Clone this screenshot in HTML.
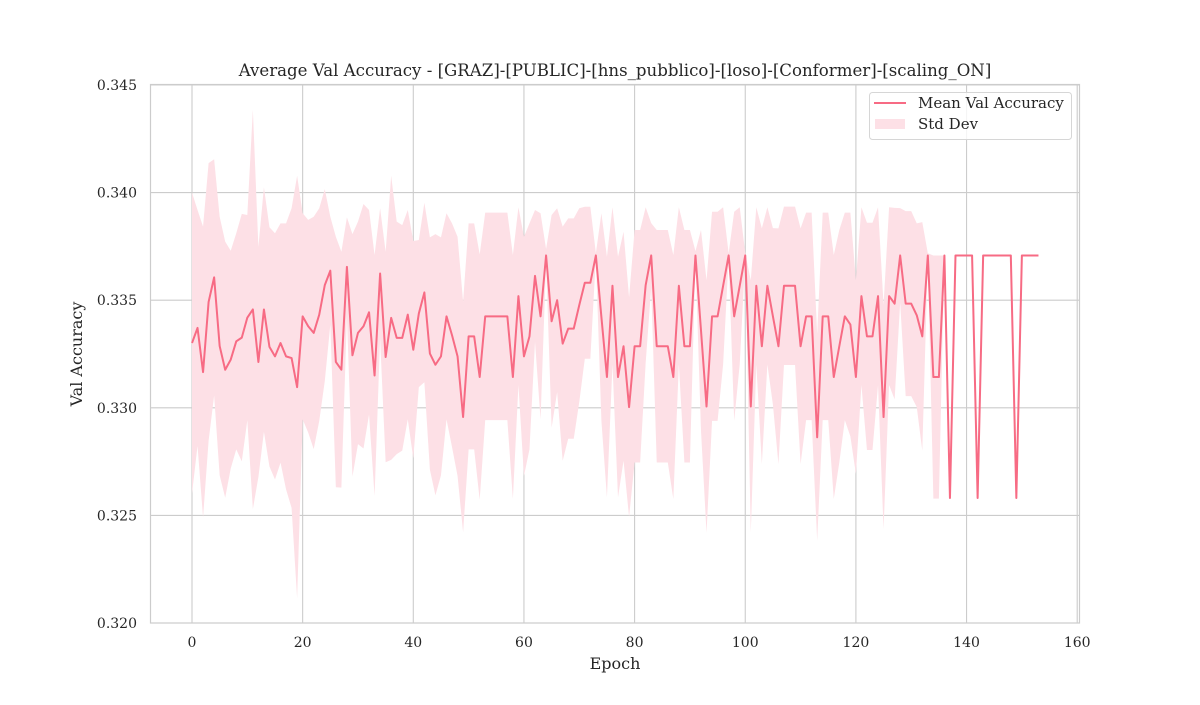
<!DOCTYPE html>
<html><head><meta charset="utf-8">
<style>
html,body{margin:0;padding:0;background:#fff;}
svg text{font-family:"DejaVu Serif","Liberation Serif",serif;fill:#262626;}
</style></head>
<body>
<svg id="chart" width="1200" height="700" xmlns="http://www.w3.org/2000/svg">
<rect x="0" y="0" width="1200" height="700" fill="#fff"/>
<g id="grid"></g>
<g id="band"></g>
<g id="line"></g>
<rect x="150.5" y="84.5" width="929" height="538.5" fill="none" stroke="#cccccc" stroke-width="1.2"/>
<g id="ticks"></g>
<text x="615" y="76" font-size="16.6" text-anchor="middle">Average Val Accuracy - [GRAZ]-[PUBLIC]-[hns_pubblico]-[loso]-[Conformer]-[scaling_ON]</text>
<text x="615" y="669" font-size="16" text-anchor="middle">Epoch</text>
<text x="0" y="0" font-size="16" text-anchor="middle" transform="translate(82,354) rotate(-90)">Val Accuracy</text>
<g>
<rect x="869.5" y="92.5" width="202" height="47" rx="3" fill="#fff" fill-opacity="0.8" stroke="#d6d6d6"/>
<line x1="874" y1="103" x2="906" y2="103" stroke="#f76b84" stroke-width="2"/>
<rect x="875" y="119" width="30" height="10" fill="#fde0e6"/>
<text x="918" y="108" font-size="15">Mean Val Accuracy</text>
<text x="918" y="129" font-size="15">Std Dev</text>
</g>
</svg>
<script>
const meanVals = [0.33301,0.33371,0.33166,0.33492,0.33606,0.33287,0.33177,0.33224,0.33309,0.33326,
0.33419,0.33457,0.33213,0.33457,0.33283,0.33239,0.33301,0.33239,0.33231,0.33096,
0.33425,0.33379,0.33348,0.33433,0.3357,0.33637,0.33213,0.33177,0.33655,0.33244,
0.33348,0.33379,0.33444,0.3315,0.33624,0.33236,0.33418,0.33325,0.33325,0.33433,
0.3327,0.33438,0.33536,0.33252,0.332,0.33239,0.33425,0.33337,0.33239,0.32957,
0.33332,0.33332,0.33143,0.33425,0.33425,0.33425,0.33425,0.33425,0.33143,0.33519,
0.33239,0.33332,0.33613,0.33425,0.33708,0.33402,0.335,0.33298,0.33368,0.33368,
0.33477,0.33581,0.33581,0.33708,0.33422,0.33143,0.33567,0.33143,0.33286,0.33003,
0.33286,0.33286,0.3357,0.33708,0.33286,0.33286,0.33286,0.33143,0.33567,0.33286,
0.33286,0.33708,0.3336,0.33006,0.33425,0.33425,0.33567,0.33708,0.33425,0.33567,
0.33708,0.33006,0.33567,0.33286,0.33567,0.33425,0.33286,0.33567,0.33567,0.33567,
0.33286,0.33425,0.33425,0.32863,0.33425,0.33425,0.33143,0.33286,0.33425,0.33387,
0.33143,0.33519,0.33332,0.33332,0.33519,0.32957,0.33519,0.33484,0.33708,0.33484,
0.33484,0.3343,0.33332,0.33708,0.33143,0.33143,0.33708,0.32581,0.33708,0.33708,
0.33708,0.33708,0.32581,0.33708,0.33708,0.33708,0.33708,0.33708,0.33708,0.32581,
0.33708,0.33708,0.33708,0.33708];
const stdVals = [0.00699,0.00548,0.00676,0.00645,0.00549,0.00601,0.00595,0.00506,0.00502,0.00575,
0.00477,0.00928,0.00535,0.00568,0.00556,0.00572,0.00556,0.00618,0.00696,0.00982,
0.00479,0.00494,0.0054,0.00494,0.00446,0.00251,0.00582,0.00548,0.0023,0.00563,
0.00517,0.00568,0.00475,0.0056,0.00303,0.00489,0.0066,0.0054,0.00524,0.00486,
0.00505,0.00342,0.00417,0.0054,0.00607,0.00553,0.00479,0.0052,0.00556,0.00535,
0.00525,0.00525,0.0057,0.00482,0.00482,0.00482,0.00482,0.00482,0.00567,0.00413,
0.00556,0.00525,0.00306,0.00479,0.0003,0.00494,0.00427,0.00544,0.00512,0.00512,
0.0045,0.00353,0.00353,0.0001,0.00482,0.00559,0.00365,0.00559,0.00532,0.0051,
0.0054,0.0054,0.00362,0.0015,0.0054,0.0054,0.0054,0.00567,0.00365,0.0054,
0.0054,0.0002,0.00466,0.00587,0.00486,0.00486,0.00365,0.0001,0.00486,0.00365,
0.0001,0.00587,0.00365,0.00548,0.00365,0.0041,0.00548,0.00368,0.00368,0.00368,
0.00548,0.00482,0.00482,0.0048,0.00482,0.00482,0.00567,0.0054,0.00482,0.0052,
0.0045,0.00413,0.00528,0.00528,0.00413,0.00521,0.00413,0.00445,0.0022,0.0043,
0.0043,0.00427,0.00531,0.0001,0.00565,0.00565,0,0,0,0,
0,0,0,0,0,0,0,0,0,0,
0,0,0,0];
const xTicks = [0,20,40,60,80,100,120,140,160];
const yTicks = [0.320,0.325,0.330,0.335,0.340,0.345];

const NS = "http://www.w3.org/2000/svg";
function xs(e){ return 192 + e * 5.5325; }
function ys(v){ return 623 - (v - 0.320) * 21520; }
function mk(tag, attrs, parent){
  const el = document.createElementNS(NS, tag);
  for (const k in attrs) el.setAttribute(k, attrs[k]);
  parent.appendChild(el);
  return el;
}
const grid = document.getElementById('grid');
const ticks = document.getElementById('ticks');
xTicks.forEach(t => {
  const x = xs(t);
  const gl = mk('line', {x1:x, x2:x, y1:84, y2:623, stroke:'#cccccc', 'stroke-width':1.1}, grid);
  
  
  const tx = mk('text', {x:x, y:647, 'font-size':14, 'text-anchor':'middle'}, ticks);
  tx.textContent = String(t);
  
  
});
yTicks.forEach(t => {
  const y = ys(t);
  const gl = mk('line', {x1:150, x2:1080, y1:y, y2:y, stroke:'#cccccc', 'stroke-width':1.1}, grid);
  
  
  const tx = mk('text', {x:137, y:y + 5, 'font-size':14, 'text-anchor':'end'}, ticks);
  tx.textContent = t.toFixed(3);
  
  
});
let up = [], lo = [];
meanVals.forEach((m, i) => {
  up.push(xs(i).toFixed(2) + ',' + ys(m + stdVals[i]).toFixed(2));
  lo.unshift(xs(i).toFixed(2) + ',' + ys(m - stdVals[i]).toFixed(2));
});
const band = mk('polygon', {points: up.concat(lo).join(' '), fill:'#fde0e6', stroke:'none'}, document.getElementById('band'));


const pts = meanVals.map((m, i) => xs(i).toFixed(2) + ',' + ys(m).toFixed(2)).join(' ');
const line = mk('polyline', {points: pts, fill:'none', stroke:'#f76b84', 'stroke-width':2, 'stroke-linejoin':'round'}, document.getElementById('line'));


</script>
</body></html>
